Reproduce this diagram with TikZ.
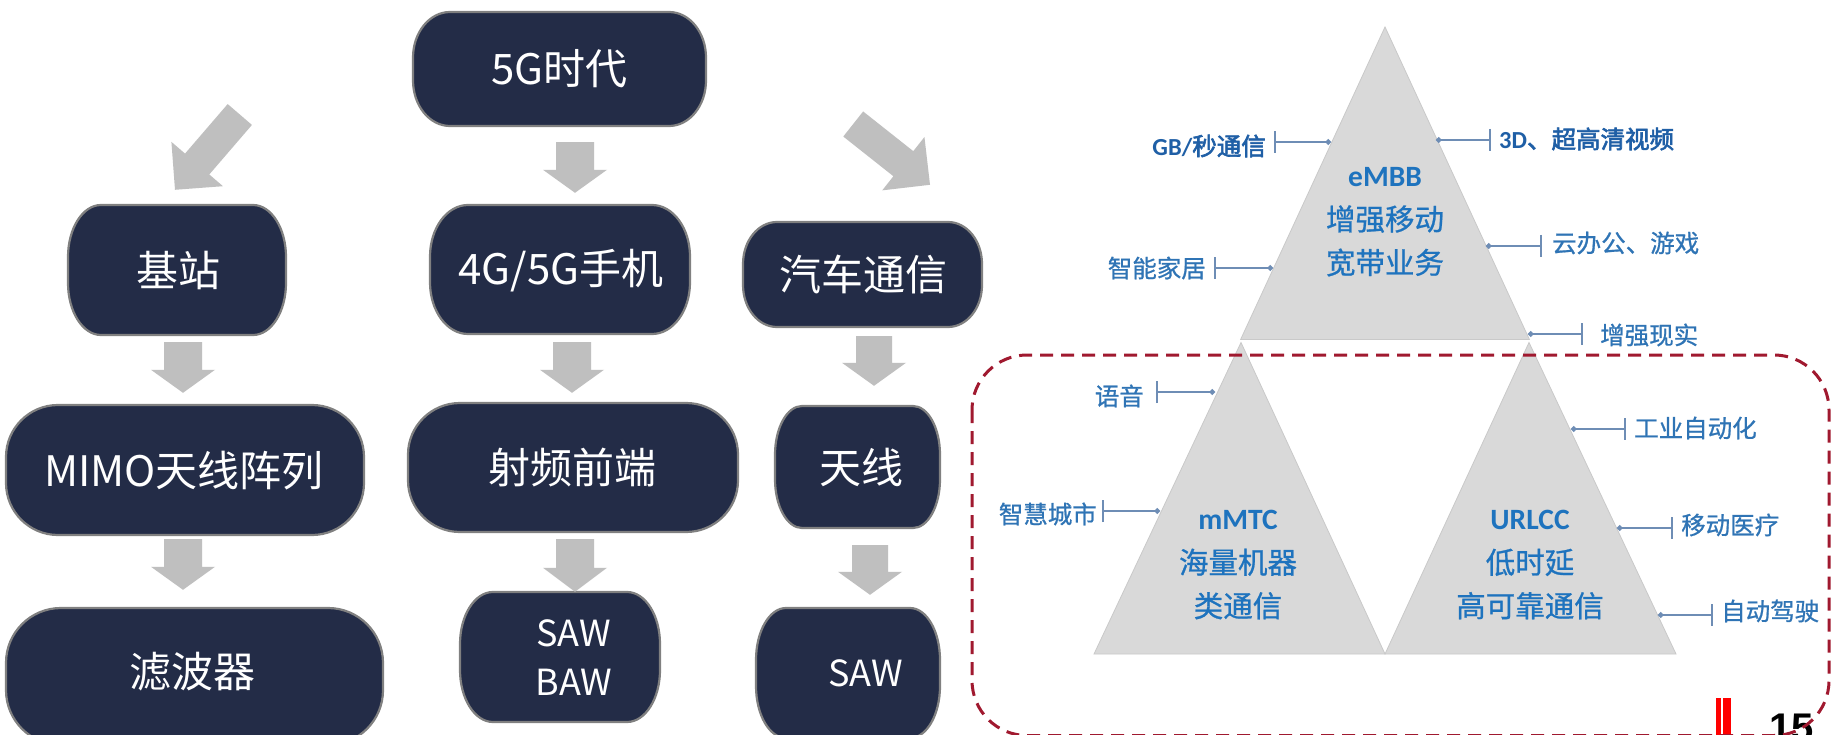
\documentclass[tikz,border=0pt]{standalone}
\usepackage{fontspec}
\setmainfont{Noto Sans CJK SC}
\newfontfamily\cjkbold[FakeBold=2.5]{Noto Sans CJK SC}
\newfontfamily\cjkmed[FakeBold=0.8]{Noto Sans CJK SC}
\newfontfamily\latfont{Carlito}
\newfontfamily\numfont{Liberation Sans}
\usetikzlibrary{calc,arrows.meta}
\definecolor{boxfill}{HTML}{232C47}
\definecolor{boxedge}{HTML}{808080}
\definecolor{arrowgray}{HTML}{BFBFBF}
\definecolor{trigray}{HTML}{D9D9D9}
\definecolor{triedge}{HTML}{C9C9C9}
\definecolor{tritext}{HTML}{1E73BE}
\definecolor{lbltext}{HTML}{2F74B5}
\definecolor{lbldark}{HTML}{1F5FA6}
\definecolor{lblcol}{HTML}{6E8DB5}
\definecolor{dashred}{HTML}{A0192F}
\definecolor{pagered}{HTML}{FF0000}
\tikzset{
  capsty/.style={fill=boxfill, draw=boxedge, line width=2.2pt},
  capframe/.style={inner sep=0pt, draw=none},
  captext/.style={text=white, inner sep=0pt, font=\fontsize{42}{50}\selectfont},
  sawtext/.style={text=white, inner sep=0pt, align=center, font=\fontsize{36}{49}\selectfont},
  tritxt/.style={text=tritext, inner sep=0pt, align=center, font=\cjkmed\fontsize{29.5}{43.5}\selectfont},
  lbl/.style={text=lbltext, inner sep=0pt, font=\cjkmed\fontsize{24.5}{28}\selectfont},
  lbllink/.style={draw=lblcol, line width=1.8pt, {Circle[length=5.5pt,width=5.5pt]}-{Bar[width=22pt]}},
  tri/.style={fill=trigray, draw=triedge, line width=0.8pt, line join=miter},
}
% name, x1, y1, x2, y2, rx, (unused x3)
\newcommand{\capbox}[9]{%
  \pgfmathsetmacro\capry{0.4*(#5-#3)}%
  \draw[capsty] ({#2+#6},#3) -- ({#4-#6},#3)
    arc[start angle=90,end angle=0,x radius=#6pt,y radius=\capry pt]
    -- (#4,{#5-\capry})
    arc[start angle=0,end angle=-90,x radius=#6pt,y radius=\capry pt]
    -- ({#2+#6},#5)
    arc[start angle=270,end angle=180,x radius=#6pt,y radius=\capry pt]
    -- (#2,{#3+\capry})
    arc[start angle=180,end angle=90,x radius=#6pt,y radius=\capry pt]
    -- cycle;
  \node[capframe, minimum width={(#4-#2)*1pt}, minimum height={(#5-#3)*1pt}] (#1) at ({(#2+#4)/2},{(#3+#5)/2}) {};
}
% tail, tip, shaft half, head half, head length
\newcommand{\blockarr}[5]{%
  \coordinate (bah) at ($(#2)!#5!(#1)$);
  \fill[arrowgray] ($(#1)!#3!90:(#2)$) -- ($(bah)!#3!90:(#2)$) -- ($(bah)!#4!90:(#2)$) -- (#2)
    -- ($(bah)!#4!-90:(#2)$) -- ($(bah)!#3!-90:(#2)$) -- ($(#1)!#3!-90:(#2)$) -- cycle;
}
\begin{document}
\begin{tikzpicture}[x=1pt,y=-1pt]
\useasboundingbox (0,0) rectangle (1831,735);
\fill[white] (0,0) rectangle (1831,735);

% ---------- flow boxes ----------
\capbox{g5}{413}{12}{706}{126}{37}{}{}{}
\node[captext] (g5t) at (559.5,69) {5G时代};
\capbox{jz}{68}{205}{286}{335}{33}{}{}{}
\node[captext] (jzt) at (178,270) {基站};
\capbox{sj}{430}{205}{690}{334}{38}{}{}{}
\node[captext] (sjt) at (561,271) {4G/5G手机};
\capbox{qc}{743}{222}{982}{327}{34}{}{}{}
\node[captext] (qct) at (863,274) {汽车通信};
\capbox{mimo}{6}{405}{364}{535}{52}{}{}{}
\node[captext] (mimot) at (184,471) {MIMO天线阵列};
\capbox{sp}{408}{403}{738}{532}{52}{}{}{}
\node[captext] (spt) at (572,467) {射频前端};
\capbox{tx}{775}{406}{940}{528}{27}{}{}{}
\node[captext] (txt) at (861,467) {天线};
\capbox{lb}{6}{608}{383}{745}{55}{}{}{}
\node[captext] (lbt) at (192,672) {滤波器};
\capbox{sb}{460}{592}{660}{722}{33}{}{}{}
\node[sawtext] (sbt) at (574,658) {SAW\\BAW};
\capbox{saw}{756}{608}{940}{738}{30}{}{}{}
\node[sawtext] (sawt) at (866,673) {SAW};

% ---------- block arrows ----------
\coordinate (a1s) at ([xshift=15.5pt,yshift=-16pt]g5.south);
\coordinate (a1e) at ([xshift=15pt,yshift=12pt]sj.north);
\blockarr{a1s}{a1e}{19pt}{32pt}{23pt}
\coordinate (a2s) at ([xshift=6pt,yshift=-7pt]jz.south);
\coordinate (a2e) at ([xshift=-2pt,yshift=12pt]mimo.north);
\blockarr{a2s}{a2e}{19pt}{32pt}{23pt}
\coordinate (a3s) at ([xshift=12pt,yshift=-8pt]sj.south);
\coordinate (a3e) at ([xshift=-1pt,yshift=10pt]sp.north);
\blockarr{a3s}{a3e}{19pt}{32pt}{23pt}
\coordinate (a4s) at ([xshift=11.5pt,yshift=-9pt]qc.south);
\coordinate (a4e) at ([xshift=16.5pt,yshift=20pt]tx.north);
\blockarr{a4s}{a4e}{18pt}{32pt}{23pt}
\coordinate (a5s) at ([xshift=-2pt,yshift=-4pt]mimo.south);
\coordinate (a5e) at ([xshift=-11.5pt,yshift=18pt]lb.north);
\blockarr{a5s}{a5e}{19pt}{32pt}{23pt}
\coordinate (a6s) at ([xshift=2pt,yshift=-7pt]sp.south);
\coordinate (a6e) at ([xshift=15pt,yshift=0pt]sb.north);
\blockarr{a6s}{a6e}{19pt}{32pt}{24pt}
\coordinate (a7s) at ([xshift=12.5pt,yshift=-17pt]tx.south);
\coordinate (a7e) at ([xshift=22pt,yshift=13pt]saw.north);
\blockarr{a7s}{a7e}{18pt}{32pt}{23pt}
\coordinate (d1s) at ([xshift=-173pt,yshift=-45.5pt]g5.west);
\coordinate (d1e) at ([xshift=-2pt,yshift=15pt]jz.north);
\blockarr{d1s}{d1e}{16pt}{34pt}{34pt}
\coordinate (d2s) at ([xshift=147pt,yshift=-55pt]g5.east);
\coordinate (d2e) at ([xshift=67.5pt,yshift=37pt]qc.north);
\blockarr{d2s}{d2e}{16pt}{34pt}{34pt}

% ---------- triangles ----------
\path[tri] (1385,27) -- (1529.4,339.5) -- (1240.6,339.5) -- cycle;
\path[tri] (1241,342.5) -- (1385,654) -- (1094,654) -- cycle;
\path[tri] (1529,342.5) -- (1676,654) -- (1385,654) -- cycle;

\node[tritxt] (embb) at (1385,222) {{\latfont\bfseries eMBB}\\增强移动\\宽带业务};
\node[tritxt] (mmtc) at (1238,565) {{\latfont\bfseries mMTC}\\海量机器\\类通信};
\node[tritxt] (urlcc) at (1530,565) {{\latfont\bfseries URLCC}\\低时延\\高可靠通信};

% ---------- labels ----------
\coordinate (l1d) at (1331,142); \coordinate (l1t) at (1274,142);
\draw[lbllink] (l1d) -- (l1t);
\node[lbl, text=lbldark, anchor=east] (l1) at (1266,146) {{\latfont\bfseries GB/}{\cjkbold 秒通信}};

\coordinate (l2d) at (1436,140); \coordinate (l2t) at (1491,140);
\draw[lbllink] (l2d) -- (l2t);
\node[lbl, text=lbldark, anchor=west] (l2) at (1499,139) {{\latfont\bfseries 3D}{\cjkbold 、超高清视频}};

\coordinate (l3d) at (1486,246); \coordinate (l3t) at (1542,246);
\draw[lbllink] (l3d) -- (l3t);
\node[lbl, anchor=west] (l3) at (1552,243) {云办公、游戏};

\coordinate (l4d) at (1273,268); \coordinate (l4t) at (1214,268);
\draw[lbllink] (l4d) -- (l4t);
\node[lbl, anchor=east] (l4) at (1206,268) {智能家居};

\coordinate (l5d) at (1528,334); \coordinate (l5t) at (1583,334);
\draw[lbllink] (l5d) -- (l5t);
\node[lbl, anchor=west] (l5) at (1600,335) {增强现实};

\coordinate (l6d) at (1215,392); \coordinate (l6t) at (1156,392);
\draw[lbllink] (l6d) -- (l6t);
\node[lbl, anchor=east] (l6) at (1144,396) {语音};

\coordinate (l7d) at (1160,511); \coordinate (l7t) at (1102,511);
\draw[lbllink] (l7d) -- (l7t);
\node[lbl, anchor=east] (l7) at (1097,514) {智慧城市};

\coordinate (l8d) at (1571,429); \coordinate (l8t) at (1626,429);
\draw[lbllink] (l8d) -- (l8t);
\node[lbl, anchor=west] (l8) at (1634,428) {工业自动化};

\coordinate (l9d) at (1617,528); \coordinate (l9t) at (1673,528);
\draw[lbllink] (l9d) -- (l9t);
\node[lbl, anchor=west] (l9) at (1681,525) {移动医疗};

\coordinate (l10d) at (1658,615); \coordinate (l10t) at (1713,615);
\draw[lbllink] (l10d) -- (l10t);
\node[lbl, anchor=west] (l10) at (1721,611) {自动驾驶};

% ---------- page number ----------
\fill[pagered] (1716,698) rectangle (1721,740);
\fill[pagered] (1722.5,698) rectangle (1731,740);
\node[anchor=base west, inner sep=0pt, font=\numfont\bfseries\fontsize{40}{40}\selectfont] (pgno) at (1769,741) {15};

% ---------- dashed frame ----------
\draw[dashred, line width=3pt, dash pattern=on 13pt off 8pt, rounded corners=55pt] (972,355) rectangle (1829,735.5);
\end{tikzpicture}
\end{document}
